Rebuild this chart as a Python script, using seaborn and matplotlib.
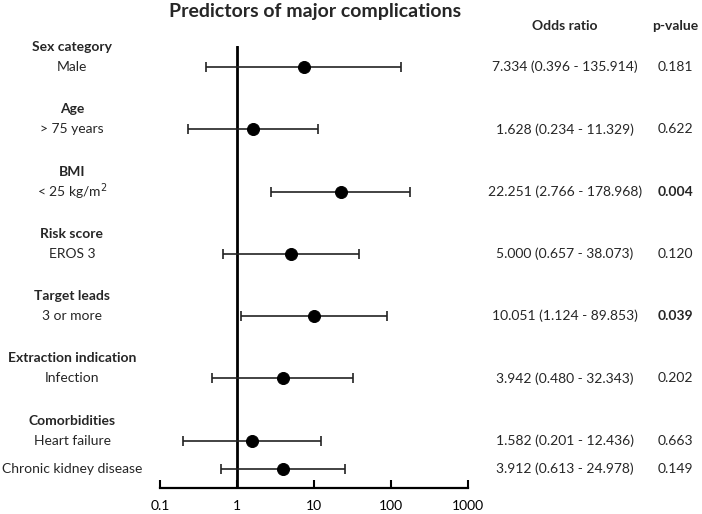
import matplotlib
matplotlib.use("Agg")
import matplotlib.pyplot as plt
import matplotlib.transforms as mtransforms
import numpy as np
import pandas as pd
import seaborn as sns

# ---- data ----
groups = ["Sex category", "Age", "BMI", "Risk score", "Target leads",
          "Extraction indication", "Comorbidities"]
items = [["Male"], ["> 75 years"], ["< 25 kg/m$^2$"], ["EROS 3"], ["3 or more"],
         ["Infection"], ["Heart failure", "Chronic kidney disease"]]
odds = [7.334, 1.628, 22.251, 5.000, 10.051, 3.942, 1.582, 3.912]
ci_low = [0.396, 0.234, 2.766, 0.657, 1.124, 0.480, 0.201, 0.613]
ci_high = [135.914, 11.329, 178.968, 38.073, 89.853, 32.343, 12.436, 24.978]
pvals = ["0.181", "0.622", "0.004", "0.120", "0.039", "0.202", "0.663", "0.149"]
p_bold = [False, False, True, False, True, False, False, False]
xticks = [0.1, 1, 10, 100, 1000]
xtick_labels = ["0.1", "1", "10", "100", "1000"]
title = "Predictors of major complications"

# ---- layout constants (pixel-like units, inverted y) ----
GROUP_GAP = 62.3
HEADER_GAP = 20.0
ITEM_GAP = 28.0
FIRST = 47.0

header_y = []
item_y = []
item_labels = []
for g, its in enumerate(items):
    hy = FIRST + g * GROUP_GAP
    header_y.append(hy)
    for k, lab in enumerate(its):
        item_y.append(hy + HEADER_GAP + k * ITEM_GAP)
        item_labels.append(lab)

df = pd.DataFrame({"y": item_y, "odds": odds, "lo": ci_low, "hi": ci_high})

sns.set_theme(style="white")
plt.rcParams["font.family"] = ["Lato", "DejaVu Sans"]

W, H = 702, 514
fig = plt.figure(figsize=(W / 100, H / 100), dpi=100)
ax_left, ax_right = 160, 468
ax_top, ax_bottom = 46, 488
ax = fig.add_axes([ax_left / W, 1 - ax_bottom / H, (ax_right - ax_left) / W,
                   (ax_bottom - ax_top) / H])

ax.set_xscale("log")
ax.set_xlim(0.1, 1000)
ax.set_ylim(ax_bottom, ax_top)

ax.axvline(1, color="black", lw=2, zorder=1)

ax.errorbar(df["odds"], df["y"],
            xerr=[df["odds"] - df["lo"], df["hi"] - df["odds"]],
            fmt="none", ecolor="#222222", elinewidth=1.2, capsize=3.5,
            capthick=1.2, zorder=2)
sns.scatterplot(data=df, x="odds", y="y", ax=ax, color="black", s=75,
                edgecolor="black", zorder=3, legend=False)

for s in ["top", "right", "left"]:
    ax.spines[s].set_visible(False)
ax.spines["bottom"].set_linewidth(1.6)
ax.spines["bottom"].set_color("black")
ax.set_xticks(xticks)
ax.set_xticklabels(xtick_labels)
ax.xaxis.set_minor_locator(matplotlib.ticker.NullLocator())
ax.tick_params(axis="x", direction="in", length=6, width=1.5, colors="black",
               labelsize=10, pad=9, bottom=True)
ax.set_yticks([])
ax.set_xlabel("")
ax.set_ylabel("")

trans = mtransforms.blended_transform_factory(fig.transFigure, ax.transData)
lab_x = 72 / W
or_x = 565 / W
p_x = 675 / W
fs = 10

for g, hy in zip(groups, header_y):
    ax.text(lab_x, hy, g, transform=trans, ha="center", va="center",
            fontsize=fs, fontweight="bold", clip_on=False)
for lab, y in zip(item_labels, item_y):
    ax.text(lab_x, y, lab, transform=trans, ha="center", va="center",
            fontsize=fs, clip_on=False)

for o, lo, hi, pv, pb, y in zip(odds, ci_low, ci_high, pvals, p_bold, item_y):
    ax.text(or_x, y, f"{o:.3f} ({lo:.3f} - {hi:.3f})", transform=trans,
            ha="center", va="center", fontsize=fs, clip_on=False)
    ax.text(p_x, y, pv, transform=trans, ha="center", va="center",
            fontsize=fs, fontweight="bold" if pb else "normal", clip_on=False)

ax.text(or_x, 26, "Odds ratio", transform=trans, ha="center", va="center",
        fontsize=fs, fontweight="bold", clip_on=False)
ax.text(p_x, 26, "p-value", transform=trans, ha="center", va="center",
        fontsize=fs, fontweight="bold", clip_on=False)

fig.text(315 / W, 1 - 11 / H, title, ha="center", va="center",
         fontsize=14, fontweight="bold")

fig.savefig("out.png", dpi=100)
